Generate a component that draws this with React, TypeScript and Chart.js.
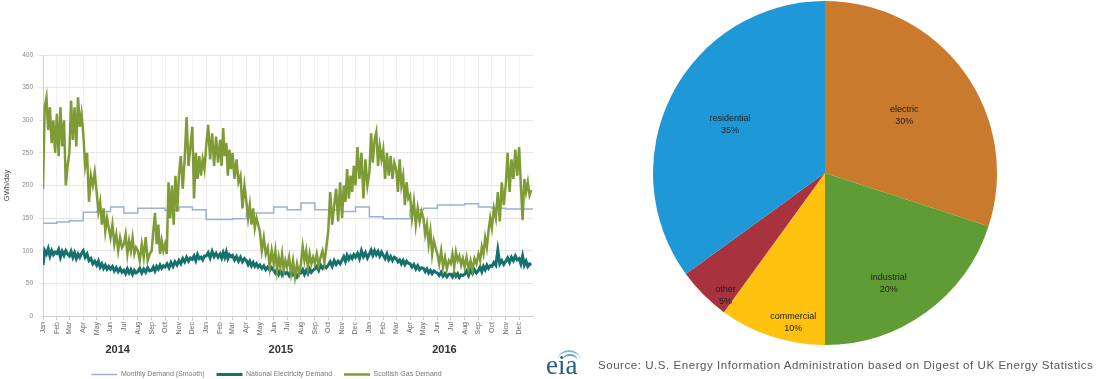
import React, { useEffect, useRef } from 'react';
import { Chart, registerables } from 'chart.js';

Chart.register(...registerables);
Chart.defaults.font.family = '"Liberation Sans", Arial, sans-serif';

const MONTHS = ['Jan', 'Feb', 'Mar', 'Apr', 'May', 'Jun', 'Jul', 'Aug', 'Sep', 'Oct', 'Nov', 'Dec'];
const YEARS = ['2014', '2015', '2016'];
const SERIES_NAMES = ['Monthly Demand (Smooth)', 'National Electricity Demand', 'Scottish Gas Demand'];
const Y_TITLE = 'GWh/day';
const Y_MAX = 400;
const Y_STEP = 50;

// Gas demand, several readings per month (Jan..Dec)
const GAS_2014 = [
  [195, 320, 335, 285, 320, 265, 300, 250],
  [310, 245, 320, 260, 300, 200, 230],
  [250, 330, 270, 320, 260, 335, 290, 310],
  [280, 230, 250, 175, 215, 200, 220],
  [190, 160, 175, 140, 165, 130, 150, 135],
  [120, 140, 110, 125, 100, 120, 105],
  [110, 125, 95, 115, 100, 120, 95, 105],
  [100, 85, 110, 90, 121, 85, 95],
  [100, 130, 158, 110, 140, 95, 115, 100],
  [110, 95, 205, 150, 200, 140, 215, 160],
  [215, 245, 195, 240, 305, 230, 260],
  [290, 180, 250, 210, 245, 215, 240, 225],
];
const GAS_2015 = [
  [260, 293, 240, 280, 230, 275, 235],
  [270, 230, 288, 245, 265, 215, 255, 225],
  [250, 210, 240, 205, 215, 165, 200],
  [175, 150, 170, 140, 165, 135, 150, 140],
  [130, 100, 120, 95, 105, 75, 100],
  [80, 100, 70, 90, 75, 95, 70, 85],
  [75, 90, 65, 85, 60, 80, 65],
  [80, 106, 85, 100, 75, 95, 80, 90],
  [80, 95, 78, 90, 100, 82, 105],
  [130, 190, 140, 170, 195, 145, 205],
  [150, 200, 175, 225, 180, 215, 190, 230],
  [200, 259, 210, 250, 180, 240, 200],
];
const GAS_2016 = [
  [220, 280, 235, 270, 282, 230, 260, 240],
  [255, 210, 250, 215, 245, 210, 235],
  [225, 190, 240, 200, 215, 170, 205, 180],
  [185, 150, 175, 140, 165, 145, 160],
  [150, 125, 140, 110, 130, 95, 115, 105],
  [95, 80, 100, 75, 90, 72, 85],
  [80, 95, 75, 98, 85, 92, 78, 88],
  [75, 90, 72, 85, 70, 88, 80],
  [95, 85, 106, 95, 120, 105, 130, 150],
  [135, 165, 150, 190, 145, 205, 170],
  [200, 250, 190, 240, 210, 255, 215],
  [259, 200, 147, 210, 190, 205, 185, 193],
];

// Electricity demand, several readings per month
const ELEC_2014 = [
  [78, 100, 95, 103, 92, 100, 94, 98],
  [96, 102, 90, 99, 93, 100, 95],
  [92, 99, 90, 97, 88, 95, 90, 96],
  [100, 90, 95, 85, 88, 80, 84],
  [78, 84, 75, 80, 73, 78, 72, 76],
  [72, 76, 69, 74, 68, 73, 67],
  [70, 65, 72, 66, 71, 64, 70, 66],
  [68, 73, 66, 72, 67, 74, 69],
  [70, 75, 69, 76, 72, 78, 73, 77],
  [75, 80, 74, 82, 76, 83, 78],
  [85, 80, 88, 83, 90, 84, 89],
  [87, 92, 85, 94, 88, 90, 86, 92],
];
const ELEC_2015 = [
  [92, 97, 89, 99, 91, 96, 90],
  [95, 89, 97, 90, 98, 88, 94, 91],
  [93, 86, 91, 84, 90, 83, 88],
  [85, 79, 84, 77, 82, 76, 80, 75],
  [78, 73, 77, 71, 75, 70, 74],
  [70, 66, 71, 64, 69, 63, 68, 65],
  [67, 62, 68, 63, 66, 60, 65],
  [66, 71, 64, 70, 65, 72, 67, 70],
  [72, 76, 70, 78, 73, 77, 74],
  [78, 83, 76, 85, 79, 84, 80],
  [86, 91, 84, 93, 87, 92, 88, 94],
  [90, 96, 88, 100, 91, 97, 89],
];
const ELEC_2016 = [
  [95, 101, 93, 100, 94, 99, 92, 98],
  [93, 88, 95, 86, 91, 85, 90],
  [88, 83, 86, 80, 85, 79, 84, 81],
  [80, 75, 79, 72, 77, 71, 74],
  [73, 68, 72, 66, 70, 65, 69, 67],
  [66, 62, 67, 61, 65, 60, 64],
  [64, 60, 66, 61, 65, 59, 63, 62],
  [64, 69, 62, 70, 65, 71, 66],
  [70, 75, 68, 76, 71, 78, 73, 77],
  [76, 82, 78, 101, 80, 85, 79],
  [84, 89, 82, 90, 85, 92, 86],
  [88, 80, 92, 78, 84, 76, 80, 78],
];

// Smoothed demand, one value per month
const SMOOTH_2014 = [142, 144, 146, 159, 160, 167, 158, 165, 165, 162, 167, 163];
const SMOOTH_2015 = [148, 148, 149, 158, 158, 167, 163, 173, 163, 163, 160, 167];
const SMOOTH_2016 = [152, 149, 149, 163, 165, 170, 170, 172, 167, 165, 164, 164];

// Pie
const PIE_LABELS = ['electric', 'industrial', 'commercial', 'other', 'residential'];
const PIE_VALUES = [30, 20, 10, 5, 35];
const PIE_COLORS = ['#c97a2c', '#5f9c35', '#ffc20e', '#a8323e', '#1f98d8'];
const SOURCE_TEXT = 'Source: U.S. Energy Information Administration based on Digest of UK Energy Statistics';

const DAY = 86400000;
const T0 = Date.UTC(2014, 0, 1);
const monthStart = (k: number) => (Date.UTC(2014, k, 1) - T0) / DAY;
const X_MAX = monthStart(36);
const MONTH_TICKS = Array.from({ length: 36 }, (_, k) => monthStart(k));
const YEAR_TICKS = [0, 1, 2].map((y) => monthStart(y * 12 + 5) + 16);

function monthlyPoints(years: number[][][]) {
  const pts: { x: number; y: number }[] = [];
  years.forEach((yr, yi) =>
    yr.forEach((vals, mi) => {
      const k = yi * 12 + mi;
      const s = monthStart(k);
      const e = monthStart(k + 1);
      vals.forEach((v, j) => pts.push({ x: s + ((e - s) * j) / vals.length, y: v }));
    })
  );
  return pts;
}

function stepPoints(vals: number[]) {
  const pts = vals.map((v, k) => ({ x: monthStart(k), y: v }));
  pts.push({ x: X_MAX, y: vals[vals.length - 1] });
  return pts;
}

// label placement inside each slice: [radius fraction, angle shift in degrees]
const LABEL_PLACE = [
  [0.57, 0],
  [0.74, 6],
  [0.89, -6],
  [0.92, -6],
  [0.62, 0],
];

const pieLabelPlugin = {
  id: 'pieLabels',
  afterDatasetsDraw(chart: any) {
    const ctx = chart.ctx;
    const meta = chart.getDatasetMeta(0);
    ctx.save();
    ctx.font = '9px "Liberation Sans", Arial, sans-serif';
    ctx.fillStyle = '#222';
    ctx.textAlign = 'center';
    ctx.textBaseline = 'middle';
    meta.data.forEach((arc: any, i: number) => {
      const { x, y, startAngle, endAngle, outerRadius } = arc.getProps(['x', 'y', 'startAngle', 'endAngle', 'outerRadius'], true);
      const mid = (startAngle + endAngle) / 2 + (LABEL_PLACE[i][1] * Math.PI) / 180;
      const r = outerRadius * LABEL_PLACE[i][0];
      const lx = x + Math.cos(mid) * r;
      const ly = y + Math.sin(mid) * r;
      ctx.fillText(PIE_LABELS[i], lx, ly - 6);
      ctx.fillText(PIE_VALUES[i] + '%', lx, ly + 6);
    });
    ctx.restore();
  },
};

const legendFitPlugin = {
  id: 'legendFit',
  beforeInit(chart: any) {
    const orig = chart.legend.fit;
    chart.legend.fit = function () {
      orig.call(this);
      this.height = 20;
    };
  },
};

export default function App() {
  const lineRef = useRef<HTMLCanvasElement>(null);
  const pieRef = useRef<HTMLCanvasElement>(null);

  useEffect(() => {
    const line = new Chart(lineRef.current!, {
      type: 'line',
      data: {
        datasets: [
          {
            label: SERIES_NAMES[0],
            data: stepPoints([...SMOOTH_2014, ...SMOOTH_2015, ...SMOOTH_2016]),
            borderColor: '#9cafda',
            backgroundColor: '#9cafda',
            borderWidth: 1.5,
            stepped: true,
            pointRadius: 0,
            order: 2,
          },
          {
            label: SERIES_NAMES[1],
            data: monthlyPoints([ELEC_2014, ELEC_2015, ELEC_2016]),
            borderColor: '#15716d',
            backgroundColor: '#15716d',
            borderWidth: 3,
            pointRadius: 0,
            order: 1,
          },
          {
            label: SERIES_NAMES[2],
            data: monthlyPoints([GAS_2014, GAS_2015, GAS_2016]),
            borderColor: '#7f9b36',
            backgroundColor: '#7f9b36',
            borderWidth: 2.5,
            pointRadius: 0,
            order: 0,
          },
        ],
      } as any,
      options: {
        animation: false,
        responsive: false,
        maintainAspectRatio: false,
        layout: { padding: { top: 17, right: 27, left: 0, bottom: 0 } },
        plugins: {
          legend: {
            position: 'bottom',
            labels: {
              usePointStyle: true,
              pointStyle: 'line',
              pointStyleWidth: 26,
              boxHeight: 7,
              font: { size: 7 },
              color: '#777',
              padding: 12,
              sort: (a: any, b: any) => a.datasetIndex - b.datasetIndex,
            },
          },
          tooltip: { enabled: false },
        },
        scales: {
          x: {
            type: 'linear',
            min: 0,
            max: X_MAX,
            weight: 0,
            afterBuildTicks: (s: any) => {
              s.ticks = MONTH_TICKS.map((v) => ({ value: v }));
            },
            afterFit: (s: any) => {
              s.height = 27;
            },
            ticks: {
              autoSkip: false,
              minRotation: 90,
              maxRotation: 90,
              font: { size: 7 },
              color: '#666',
              padding: 2,
              callback: (_v: any, i: number) => MONTHS[i % 12],
            },
            grid: { color: '#f1f1f1', tickColor: '#cfcfcf', tickLength: 4 },
            border: { color: '#cfcfcf' },
          },
          x2: {
            type: 'linear',
            position: 'bottom',
            min: 0,
            max: X_MAX,
            weight: 1,
            afterBuildTicks: (s: any) => {
              s.ticks = YEAR_TICKS.map((v) => ({ value: v }));
            },
            afterFit: (s: any) => {
              s.height = 16;
            },
            ticks: {
              autoSkip: false,
              maxRotation: 0,
              padding: 0,
              font: { size: 11, weight: 'bold' },
              color: '#333',
              callback: (_v: any, i: number) => YEARS[i],
            },
            grid: { display: false, drawTicks: false },
            border: { display: false },
          },
          y: {
            min: 0,
            max: Y_MAX,
            afterFit: (s: any) => {
              s.width = 43;
            },
            ticks: { stepSize: Y_STEP, font: { size: 6.5 }, color: '#888', padding: 6 },
            title: { display: true, text: Y_TITLE, font: { size: 7.5 }, color: '#444', padding: 2 },
            grid: { color: '#e6e6e6', tickLength: 4, tickColor: '#e6e6e6' },
            border: { color: '#cfcfcf' },
          },
        },
      } as any,
      plugins: [legendFitPlugin],
    });

    const pie = new Chart(pieRef.current!, {
      type: 'pie',
      data: {
        labels: PIE_LABELS,
        datasets: [{ data: PIE_VALUES, backgroundColor: PIE_COLORS, borderWidth: 0 }],
      },
      options: {
        animation: false,
        responsive: false,
        maintainAspectRatio: false,
        layout: { padding: 0 },
        plugins: { legend: { display: false }, tooltip: { enabled: false } },
      } as any,
      plugins: [pieLabelPlugin],
    });

    return () => {
      line.destroy();
      pie.destroy();
    };
  }, []);

  return (
    <div style={{ position: 'absolute', left: 0, top: 0, width: 1098, height: 379, background: '#fff', overflow: 'hidden' }}>
      <canvas ref={lineRef} width={560} height={341} style={{ position: 'absolute', left: 0, top: 38, width: 560, height: 341 }} />
      <canvas ref={pieRef} width={344} height={344} style={{ position: 'absolute', left: 653, top: 1, width: 344, height: 344 }} />
      <div style={{ position: 'absolute', left: 546, top: 350, width: 34, height: 28 }}>
        <div style={{ position: 'absolute', left: 12, top: 0, width: 22, height: 16, borderTop: '2px solid #7fb6d8', borderRadius: '50% 50% 0 0' }} />
        <div style={{ position: 'absolute', left: 16, top: 4, width: 16, height: 12, borderTop: '2px solid #5fa3c9', borderRadius: '50% 50% 0 0' }} />
        <div style={{ position: 'absolute', left: 0, top: 2, fontFamily: '"Liberation Serif", serif', fontSize: 27, lineHeight: '26px', color: '#2f5b7c' }}>eia</div>
      </div>
      <div style={{ position: 'absolute', left: 598, top: 359, fontFamily: '"Liberation Sans", Arial, sans-serif', fontSize: 11.5, letterSpacing: '0.55px', color: '#555', whiteSpace: 'nowrap' }}>
        {SOURCE_TEXT}
      </div>
    </div>
  );
}
